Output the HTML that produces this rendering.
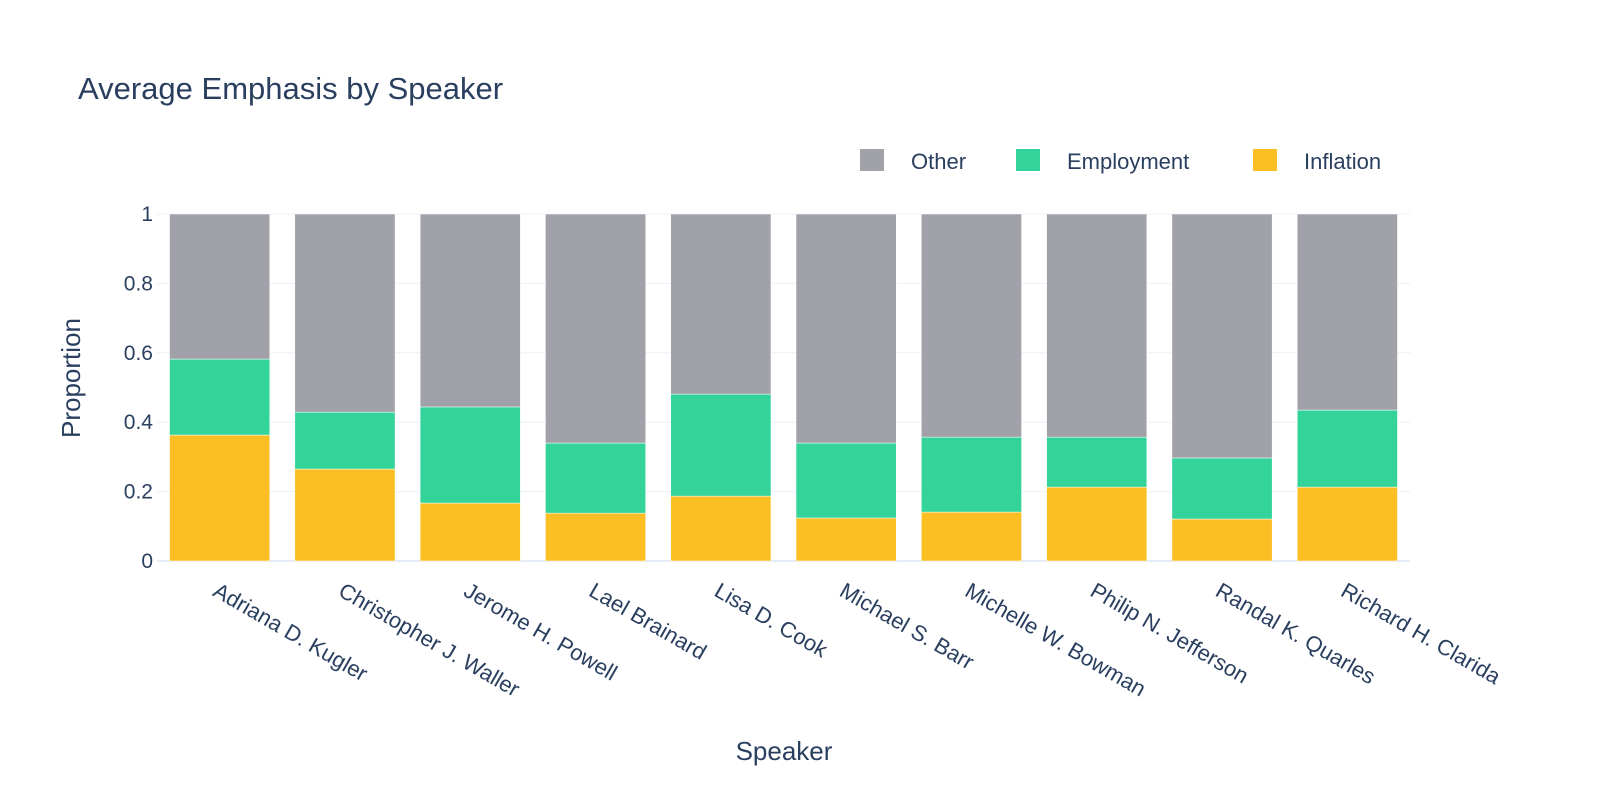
<!DOCTYPE html>
<html><head><meta charset="utf-8"><style>
body{margin:0;background:#fff;font-family:"Liberation Sans",sans-serif}
text{font-family:"Liberation Sans",sans-serif;fill:#2a3f5f}
</style></head><body>
<svg id="chart" width="1600" height="800">
<text x="78" y="99" font-size="31">Average Emphasis by Speaker</text>
<g id="grid"></g><g id="bars"></g><g id="xlabels"></g><g id="ylabels"></g>
<text x="80" y="378" font-size="26" text-anchor="middle" transform="rotate(-90 80 378)">Proportion</text>
<text x="784" y="760" font-size="26" text-anchor="middle">Speaker</text>
<g id="legend"></g>
</svg>
<script>
const speakers=["Adriana D. Kugler","Christopher J. Waller","Jerome H. Powell","Lael Brainard","Lisa D. Cook","Michael S. Barr","Michelle W. Bowman","Philip N. Jefferson","Randal K. Quarles","Richard H. Clarida"];
const inflation=[0.363,0.265,0.167,0.138,0.187,0.124,0.141,0.213,0.121,0.213];
const employment=[0.219,0.164,0.277,0.202,0.294,0.216,0.216,0.144,0.176,0.222];
const other=[0.418,0.571,0.556,0.660,0.519,0.660,0.643,0.643,0.703,0.565];
const yTicks=[0,0.2,0.4,0.6,0.8,1];
const yTickLabels=["0","0.2","0.4","0.6","0.8","1"];
const NS="http://www.w3.org/2000/svg";
const x0=157,x1=1410,yB=561,yT=214;
const slot=(x1-x0)/speakers.length,bw=slot*0.8;
const y=v=>yB-v*(yB-yT);
const xc=i=>x0+slot*(i+0.5);
function mk(tag,attrs,parent){const e=document.createElementNS(NS,tag);for(const k in attrs)e.setAttribute(k,attrs[k]);document.getElementById(parent).appendChild(e);return e;}
yTicks.forEach((t,i)=>{
 const l=mk('line',{x1:x0,x2:x1,y1:y(t),y2:y(t),stroke:t===0?'#e5ecf6':'#ebf0f8','stroke-width':t===0?2:1},'grid');
 
 
 const tx=mk('text',{x:x0-4,y:y(t)+7,'font-size':21,'text-anchor':'end'},'ylabels');
 tx.textContent=yTickLabels[i];
 
 
});
const series=[["inflation",inflation,"#fbbf24"],["employment",employment,"#34d399"],["other",other,"#a1a1aa"]];
speakers.forEach((s,i)=>{
 let base=0;
 series.forEach(([n,arr,c])=>{
  const r=mk('rect',{x:xc(i)-bw/2,y:y(base+arr[i]),width:bw,height:y(base)-y(base+arr[i]),fill:c,stroke:'#fff','stroke-width':0.5},'bars');
  
  
  base+=arr[i];
 });
 const t=mk('text',{x:xc(i)-8,y:yB+34,'font-size':22,transform:`rotate(30 ${xc(i)-8} ${yB+34})`},'xlabels');
 t.textContent=s;
 
 
});
const leg=[["Other","#a1a1aa",860],["Employment","#34d399",1016],["Inflation","#fbbf24",1253]];
leg.forEach(([n,c,lx])=>{
 const r=mk('rect',{x:lx,y:149,width:24,height:22,fill:c},'legend');
 
 
 const t=mk('text',{x:lx+51,y:169,'font-size':22},'legend');
 t.textContent=n;
 
 
});
</script>
</body></html>
